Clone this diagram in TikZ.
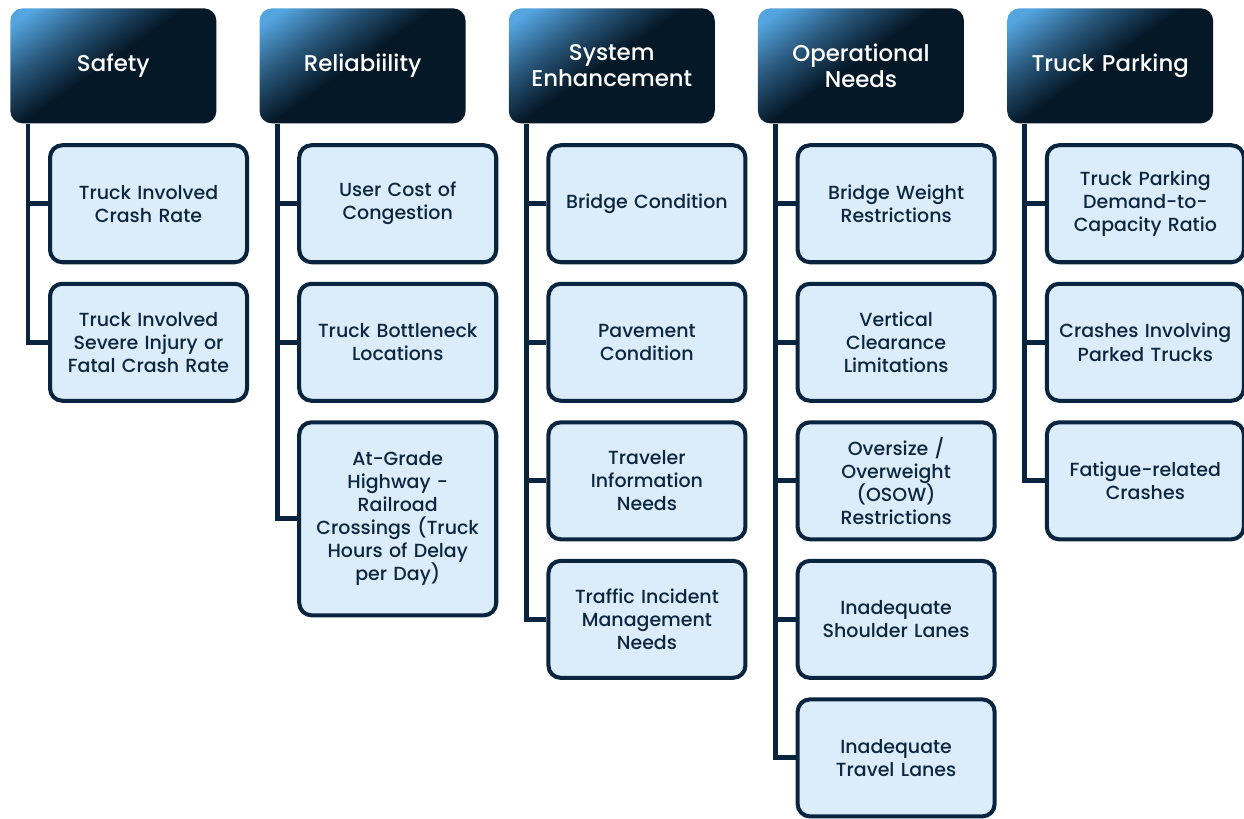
\documentclass[tikz,border=0pt]{standalone}
\usepackage{fontspec}
\setmainfont{Poppins}[UprightFont=* Medium]
\usetikzlibrary{positioning}
\definecolor{NavyLinea}{RGB}{9,36,62}
\definecolor{NavyFondo}{RGB}{5,24,40}
\definecolor{AzulCabeza}{RGB}{84,164,224}
\definecolor{AzulSuave}{RGB}{219,236,250}
\definecolor{TextoNavy}{RGB}{12,38,64}
\pgfdeclarehorizontalshading{cabezashade}{100bp}{color(0bp)=(AzulCabeza); color(20bp)=(AzulCabeza); color(34bp)=(AzulCabeza!45!NavyFondo); color(48bp)=(NavyFondo); color(100bp)=(NavyFondo)}

\begin{document}
\begin{tikzpicture}[
  cabeza/.style={rounded corners=7pt, shading=cabezashade, shading angle=-55, text=white,
    align=center, text width=39mm, minimum width=41.2mm, minimum height=23mm, inner sep=0pt,
    font=\fontsize{13}{14.8}\selectfont},
  medida/.style={rounded corners=7pt, draw=NavyLinea, line width=2.3pt, fill=AzulSuave,
    text=TextoNavy, align=center, text width=38mm, minimum width=39.4mm, minimum height=23.4mm,
    inner sep=0pt, font=\fontsize{10.8}{13.1}\selectfont},
  alta/.style={medida, minimum height=38.6mm},
  tronco/.style={line width=2.8pt, NavyLinea},
]
\useasboundingbox (0,0) rectangle (248.8mm,-163.6mm);

% --- Cabezas ---
\node[cabeza, anchor=north west] (hSafe) at (2mm,-1.6mm) {Safety};
\node[cabeza, right=8.5mm of hSafe] (hRel) {Reliabiility};
\node[cabeza, right=8.5mm of hRel] (hSys) {System\\Enhancement};
\node[cabeza, right=8.5mm of hSys] (hOps) {Operational\\Needs};
\node[cabeza, right=8.5mm of hOps] (hPark) {Truck Parking};

% --- Safety ---
\node[medida, below right=3.9mm and 7.6mm of hSafe.south west] (sSafe1) {Truck Involved\\Crash Rate};
\node[medida, below=3.5mm of sSafe1] (sSafe2) {Truck Involved\\Severe Injury or\\Fatal Crash Rate};

% --- Reliability ---
\node[medida, below right=3.9mm and 7.6mm of hRel.south west] (sRel1) {User Cost of\\Congestion};
\node[medida, below=3.5mm of sRel1] (sRel2) {Truck Bottleneck\\Locations};
\node[alta, below=3.5mm of sRel2] (sRel3) {At-Grade\\Highway -\\Railroad\\Crossings (Truck\\Hours of Delay\\per Day)};

% --- System Enhancement ---
\node[medida, below right=3.9mm and 7.6mm of hSys.south west] (sSys1) {Bridge Condition};
\node[medida, below=3.5mm of sSys1] (sSys2) {Pavement\\Condition};
\node[medida, below=3.5mm of sSys2] (sSys3) {Traveler\\Information\\Needs};
\node[medida, below=3.5mm of sSys3] (sSys4) {Traffic Incident\\Management\\Needs};

% --- Operational Needs ---
\node[medida, below right=3.9mm and 7.6mm of hOps.south west] (sOps1) {Bridge Weight\\Restrictions};
\node[medida, below=3.5mm of sOps1] (sOps2) {Vertical\\Clearance\\Limitations};
\node[medida, below=3.5mm of sOps2] (sOps3) {Oversize /\\Overweight\\(OSOW)\\Restrictions};
\node[medida, below=3.5mm of sOps3] (sOps4) {Inadequate\\Shoulder Lanes};
\node[medida, below=3.5mm of sOps4] (sOps5) {Inadequate\\Travel Lanes};

% --- Truck Parking ---
\node[medida, below right=3.9mm and 7.6mm of hPark.south west] (sPark1) {Truck Parking\\Demand-to-\\Capacity Ratio};
\node[medida, below=3.5mm of sPark1] (sPark2) {Crashes Involving\\Parked Trucks};
\node[medida, below=3.5mm of sPark2] (sPark3) {Fatigue-related\\Crashes};

% --- Troncos y ramas ---
\draw[tronco] ([xshift=3.6mm]hSafe.south west) |- (sSafe2.west);
\draw[tronco] (sSafe1.west) -| ([xshift=3.6mm]hSafe.south west);

\draw[tronco] ([xshift=3.6mm]hRel.south west) |- (sRel3.west);
\draw[tronco] (sRel1.west) -| ([xshift=3.6mm]hRel.south west);
\draw[tronco] (sRel2.west) -| ([xshift=3.6mm]hRel.south west);

\draw[tronco] ([xshift=3.6mm]hSys.south west) |- (sSys4.west);
\draw[tronco] (sSys1.west) -| ([xshift=3.6mm]hSys.south west);
\draw[tronco] (sSys2.west) -| ([xshift=3.6mm]hSys.south west);
\draw[tronco] (sSys3.west) -| ([xshift=3.6mm]hSys.south west);

\draw[tronco] ([xshift=3.6mm]hOps.south west) |- (sOps5.west);
\draw[tronco] (sOps1.west) -| ([xshift=3.6mm]hOps.south west);
\draw[tronco] (sOps2.west) -| ([xshift=3.6mm]hOps.south west);
\draw[tronco] (sOps3.west) -| ([xshift=3.6mm]hOps.south west);
\draw[tronco] (sOps4.west) -| ([xshift=3.6mm]hOps.south west);

\draw[tronco] ([xshift=3.6mm]hPark.south west) |- (sPark3.west);
\draw[tronco] (sPark1.west) -| ([xshift=3.6mm]hPark.south west);
\draw[tronco] (sPark2.west) -| ([xshift=3.6mm]hPark.south west);

\end{tikzpicture}
\end{document}
